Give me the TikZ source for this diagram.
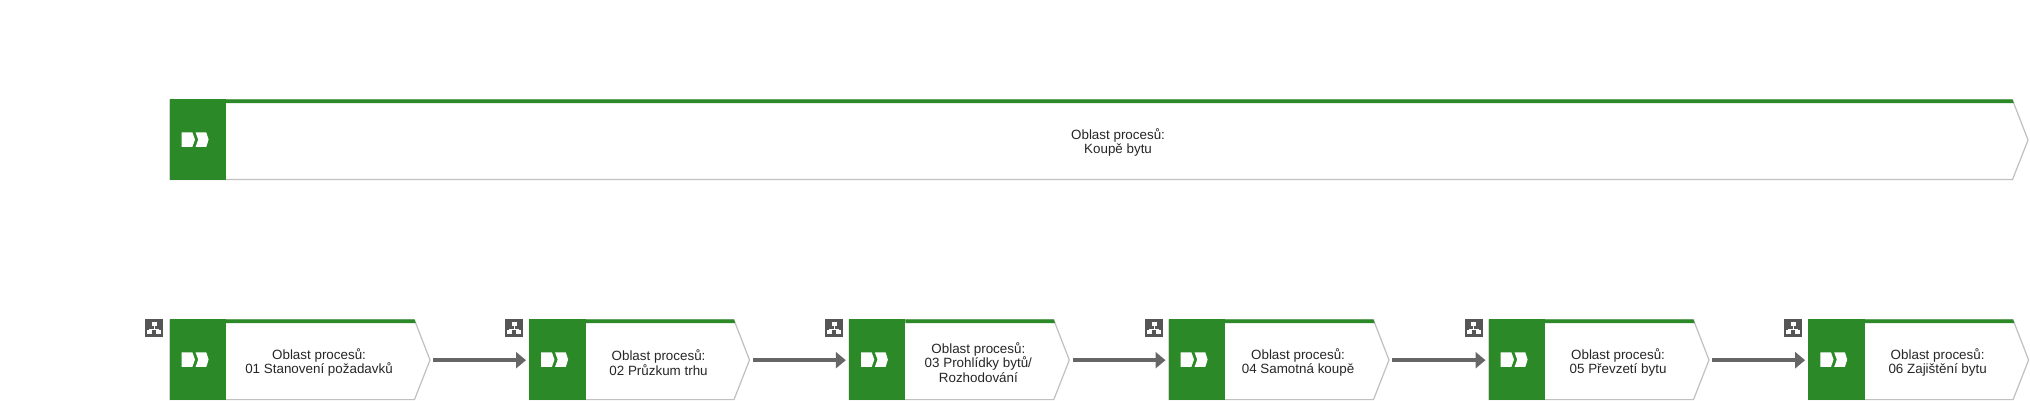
\documentclass[tikz,border=0pt]{standalone}
\usepackage{fontspec}
\setmainfont{Liberation Sans}
\usetikzlibrary{arrows.meta}
\definecolor{areagreen}{RGB}{43,138,39}
\definecolor{edgegray}{RGB}{192,192,192}
\definecolor{flowgray}{RGB}{102,102,102}
\definecolor{icongray}{RGB}{85,85,85}
\tikzset{
  x=1pt,y=-1pt,
  areaedge/.style={draw=edgegray,line width=1.2pt,fill=white,line join=miter},
  areafill/.style={fill=areagreen,draw=none},
  chev/.style={fill=white,draw=none},
  areatext/.style={font=\fontsize{13.4}{14.5}\selectfont,align=center,text=black!85,inner sep=0pt},
  areabound/.style={inner sep=0pt,draw=none,minimum height=80pt},
  flow/.style={draw=flowgray,line width=4pt,-{Triangle[length=10pt,width=16pt]}},
  orgbox/.style={fill=icongray,draw=none,minimum size=18pt,inner sep=0pt},
  orgline/.style={draw=white,line width=.9pt},
  orgpart/.style={fill=white,draw=none},
}
% name, left, top, width, text
\newcommand{\areashape}[5]{%
  \begin{scope}[shift={(#2,#3)}]
    \node[areabound,minimum width=#4 pt,anchor=north west] (#1) at (0,0) {};
    \path[areaedge] (0,0) -- ({#4-15.5},0) -- (#4,40) -- ({#4-15.5},79.6) -- (0,79.6) -- cycle;
    \path[areafill] (-.4,-.6) rectangle (56,79.9);
    \path[areafill] (56,-.6) -- ({#4-15.5},-.6) -- ({#4-14.2},3.2) -- (56,3.2) -- cycle;
    \path[chev] (11.7,32.4) -- (22.4,32.4) -- (25,39.6) -- (22.4,46.8) -- (11.7,46.8) -- cycle;
    \path[chev] (25.6,32.4) -- (36.3,32.4) -- (38.6,39.6) -- (36.3,46.8) -- (25.6,46.8) -- (28.2,39.6) -- cycle;
    \node[areatext] (#1t) at ({(56+#4-15.5)/2-1.2},42.5) {#5};
  \end{scope}}
% name, centre x, centre y
\newcommand{\orgicon}[3]{%
  \node[orgbox] (#1) at (#2,#3) {};
  \begin{scope}[shift={(#1.center)}]
    \path[orgline] (0,-3) -- (0,1) (-4.5,3) -- (-4.5,1) -- (4.5,1) -- (4.5,3);
    \path[orgpart] (-2.5,-6) rectangle (2.5,-1.8);
    \path[orgpart] (-7,2.2) rectangle (-2,6.4);
    \path[orgpart] (2,2.2) rectangle (7,6.4);
  \end{scope}}
\begin{document}
\begin{tikzpicture}
\useasboundingbox[fill=white] (0,0) rectangle (2030,401);
\areashape{top}{170}{100}{1858}{Oblast procesů:\\Koupě bytu}
\areashape{a1}{170}{320}{260}{Oblast procesů:\\01 Stanovení požadavků}
\areashape{a2}{529.5}{320}{220}{Oblast procesů:\\02 Průzkum trhu}
\areashape{a3}{849.3}{320}{220}{Oblast procesů:\\03 Prohlídky bytů/\\Rozhodování}
\areashape{a4}{1169}{320}{220}{Oblast procesů:\\04 Samotná koupě}
\areashape{a5}{1489}{320}{220}{Oblast procesů:\\05 Převzetí bytu}
\areashape{a6}{1808.6}{320}{220}{Oblast procesů:\\06 Zajištění bytu}
\orgicon{i1}{154}{328}
\orgicon{i2}{514}{328}
\orgicon{i3}{834}{328}
\orgicon{i4}{1154}{328}
\orgicon{i5}{1473.5}{328}
\orgicon{i6}{1793}{328}
\draw[flow] ([xshift=3pt,yshift=0pt]a1.east) -- ([xshift=-3.5pt]a2.west);
\draw[flow] ([xshift=3pt]a2.east) -- ([xshift=-3.5pt]a3.west);
\draw[flow] ([xshift=3pt]a3.east) -- ([xshift=-3.5pt]a4.west);
\draw[flow] ([xshift=3pt]a4.east) -- ([xshift=-3.5pt]a5.west);
\draw[flow] ([xshift=3pt]a5.east) -- ([xshift=-3.5pt]a6.west);
\end{tikzpicture}
\end{document}
